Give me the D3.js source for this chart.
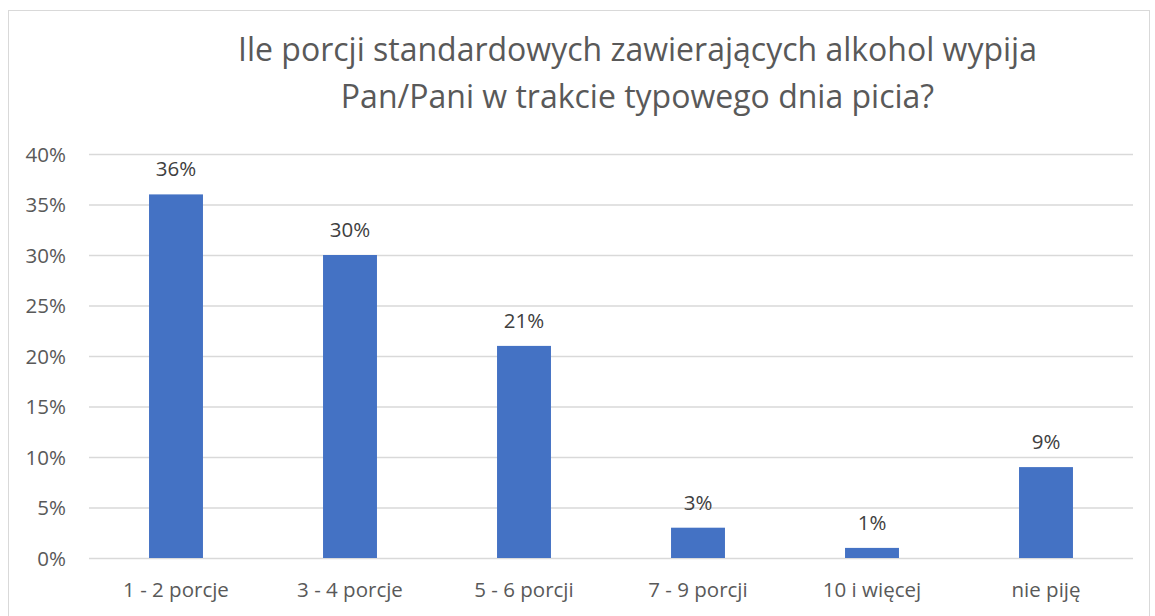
<!DOCTYPE html>
<html><head><meta charset="utf-8">
<script src="https://cdn.jsdelivr.net/npm/d3@7"></script>
<style>body{margin:0;background:#fff;} svg{display:block;}</style>
</head><body>
<svg id="c" width="1155" height="616"></svg>
<script>
const categories = ["1 - 2 porcje","3 - 4 porcje","5 - 6 porcji","7 - 9 porcji","10 i więcej","nie piję"];
const values = [0.36, 0.30, 0.21, 0.03, 0.01, 0.09];
const yTicks = [0,0.05,0.10,0.15,0.20,0.25,0.30,0.35,0.40];
const titleLines = ["Ile porcji standardowych zawierających alkohol wypija","Pan/Pani w trakcie typowego dnia picia?"];

const svg = d3.select("#c");
const font = "'Open Sans', sans-serif";
svg.append("rect").attr("x",8.5).attr("y",10.5).attr("width",1141).attr("height",620)
  .attr("fill","#fff").attr("stroke","#d9d9d9");

const x0 = 89, x1 = 1133;
const x = d3.scaleBand().domain(categories).range([x0,x1]).paddingInner(0.69).paddingOuter(0.345);
const y = d3.scaleLinear().domain([0,0.4]).range([558,154]);

const tg = svg.append("g").attr("font-family",font).attr("fill","#595959").attr("text-anchor","middle").attr("font-size",32);
titleLines.forEach((t,i)=> tg.append("text").attr("x",637.5).attr("y",61+i*46.5).text(t));

const yAxis = d3.axisLeft(y).tickValues(yTicks).tickFormat(d3.format(".0%")).tickSize(-(x1-x0)).tickPadding(23);
const ga = svg.append("g").attr("transform",`translate(${x0},0)`).call(yAxis);
ga.select(".domain").remove();
ga.selectAll(".tick line").attr("stroke","#d9d9d9").attr("stroke-width",1.3);
ga.selectAll(".tick text").attr("font-family",font).attr("font-size",20.5).attr("fill","#595959").attr("dy","0.35em");

const xAxis = d3.axisBottom(x).tickSize(0).tickPadding(24);
const gx = svg.append("g").attr("transform",`translate(0,${y(0)})`).call(xAxis);
gx.select(".domain").remove();
gx.selectAll(".tick text").attr("font-family",font).attr("font-size",20.5).attr("fill","#595959").attr("dy","0.71em");

svg.append("g").selectAll("rect").data(values).join("rect")
  .attr("x",(d,i)=>x(categories[i])).attr("width",x.bandwidth())
  .attr("y",d=>y(d)).attr("height",d=>y(0)-y(d)).attr("fill","#4472c4");

svg.append("g").selectAll("text").data(values).join("text")
  .attr("x",(d,i)=>x(categories[i])+x.bandwidth()/2).attr("y",d=>y(d)-18)
  .attr("text-anchor","middle").attr("font-family",font).attr("font-size",20.5).attr("fill","#404040")
  .text(d=>d3.format(".0%")(d));
</script>
</body></html>
